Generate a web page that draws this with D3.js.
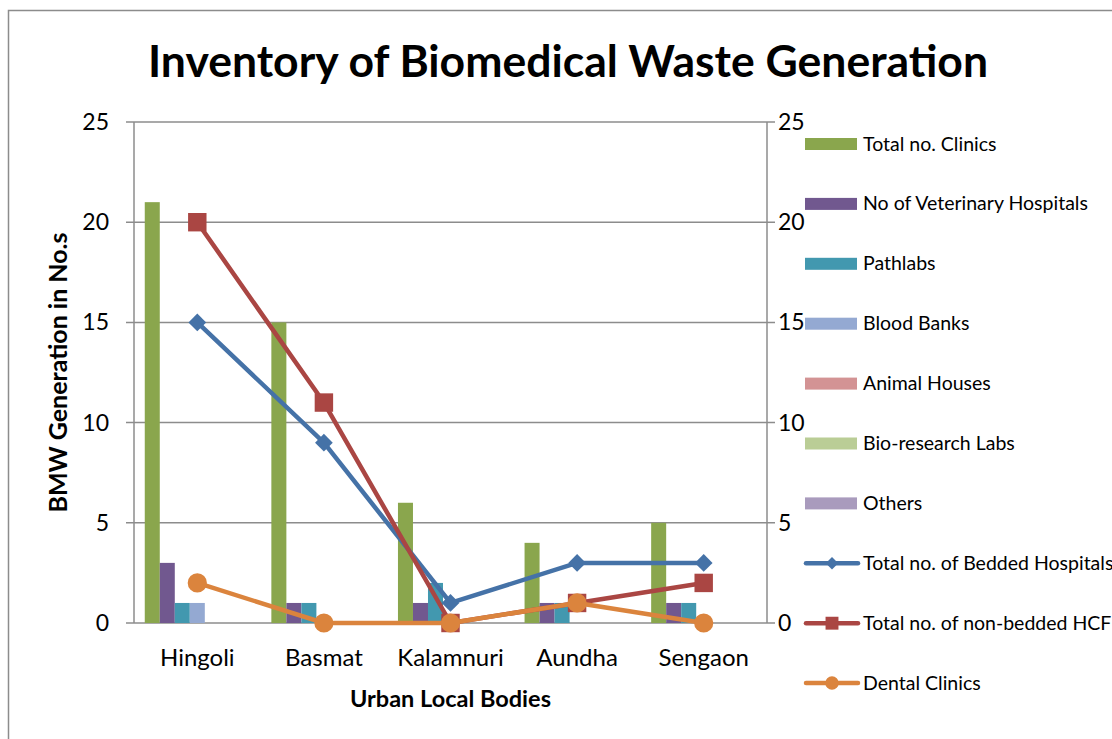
<!DOCTYPE html>
<html>
<head>
<meta charset="utf-8">
<script src="https://cdn.jsdelivr.net/npm/d3@7"></script>
<style>
    body { margin: 0; background: #fff; }
    text { font-family: Lato, "Open Sans", sans-serif; fill: #000; }
</style>
</head>
<body>
<div id="chart"></div>
<script>
const towns = ["Hingoli", "Basmat", "Kalamnuri", "Aundha", "Sengaon"];

const barNames = ["Total no. Clinics", "No of Veterinary Hospitals", "Pathlabs", "Blood Banks",
    "Animal Houses", "Bio-research Labs", "Others"];
const clinics = [21, 15, 6, 4, 5];
const vetHospitals = [3, 1, 1, 1, 1];
const pathlabs = [1, 1, 2, 1, 1];
const bloodBanks = [1, 0, 0, 0, 0];
const animalHouses = [0, 0, 0, 0, 0];
const bioLabs = [0, 0, 0, 0, 0];
const others = [0, 0, 0, 0, 0];

const lineNames = ["Total no. of Bedded Hospitals", "Total no. of non-bedded HCF", "Dental Clinics"];
const beddedHospitals = [15, 9, 1, 3, 3];
const nonBeddedHCF = [20, 11, 0, 1, 2];
const dentalClinics = [2, 0, 0, 1, 0];

const yTicks = [0, 5, 10, 15, 20, 25];

const barColors = ["#8aa64d", "#71588f", "#4298af", "#94a9d2", "#d39394", "#bacd96", "#a99bbd"];
const lineColors = ["#4572a7", "#aa4643", "#db843d"];
const lineMarkers = ["diamond", "square", "circle"];

function renderChart() {
    const width = 1112, height = 739;
    const plot = {left: 134, right: 767, top: 122, bottom: 623};

    const svg = d3.select("#chart").append("svg")
        .attr("width", width)
        .attr("height", height);

    // outer chart frame, runs off the right and bottom
    svg.append("rect")
        .attr("x", 8.5).attr("y", 10.5)
        .attr("width", 1200).attr("height", 800)
        .attr("fill", "none")
        .attr("stroke", "#8c8c8c")
        .attr("stroke-width", 1.5);

    svg.append("text")
        .attr("x", 568).attr("y", 77)
        .attr("text-anchor", "middle")
        .style("font-size", "44.5px")
        .style("font-weight", "bold")
        .text("Inventory of Biomedical Waste Generation");

    const x0 = d3.scaleBand()
        .domain(towns)
        .range([plot.left, plot.right]);
    const gap = x0.bandwidth() * 0.17;
    const x1 = d3.scaleBand()
        .domain(barNames)
        .range([gap / 2, x0.bandwidth() - gap / 2]);

    const y = d3.scaleLinear()
        .domain([0, 25])
        .range([plot.bottom, plot.top]);

    // gridlines with outward ticks on both sides
    svg.append("g")
        .selectAll("line")
        .data(yTicks)
        .enter()
        .append("line")
        .attr("x1", plot.left - 8)
        .attr("x2", plot.right + 8)
        .attr("y1", function (d) { return y(d); })
        .attr("y2", function (d) { return y(d); })
        .attr("stroke", "#8c8c8c")
        .attr("stroke-width", 1.5);

    svg.append("line")
        .attr("x1", plot.left).attr("x2", plot.left)
        .attr("y1", plot.top).attr("y2", plot.bottom)
        .attr("stroke", "#8c8c8c").attr("stroke-width", 1.5);
    svg.append("line")
        .attr("x1", plot.right).attr("x2", plot.right)
        .attr("y1", plot.top).attr("y2", plot.bottom)
        .attr("stroke", "#8c8c8c").attr("stroke-width", 1.5);

    svg.append("g")
        .selectAll("text")
        .data(yTicks)
        .enter()
        .append("text")
        .attr("x", 109)
        .attr("y", function (d) { return y(d) + 8; })
        .attr("text-anchor", "end")
        .style("font-size", "23px")
        .text(function (d) { return d; });

    svg.append("g")
        .selectAll("text")
        .data(yTicks)
        .enter()
        .append("text")
        .attr("x", 778)
        .attr("y", function (d) { return y(d) + 8; })
        .style("font-size", "23px")
        .text(function (d) { return d; });

    svg.append("g")
        .selectAll("text")
        .data(towns)
        .enter()
        .append("text")
        .attr("x", function (d) { return x0(d) + x0.bandwidth() / 2; })
        .attr("y", 666)
        .attr("text-anchor", "middle")
        .style("font-size", "24px")
        .text(function (d) { return d; });

    svg.append("text")
        .attr("x", (plot.left + plot.right) / 2).attr("y", 707)
        .attr("text-anchor", "middle")
        .style("font-size", "23.5px")
        .style("font-weight", "bold")
        .text("Urban Local Bodies");

    svg.append("text")
        .attr("transform", "translate(67," + (plot.top + plot.bottom) / 2 + ") rotate(-90)")
        .attr("text-anchor", "middle")
        .style("font-size", "25px")
        .style("font-weight", "bold")
        .text("BMW Generation in No.s");

    // bars
    const barSeries = [clinics, vetHospitals, pathlabs, bloodBanks, animalHouses, bioLabs, others];
    barSeries.forEach(function (values, s) {
        svg.append("g")
            .selectAll("rect")
            .data(values)
            .enter()
            .append("rect")
            .attr("x", function (d, i) { return x0(towns[i]) + x1(barNames[s]); })
            .attr("y", function (d) { return y(d); })
            .attr("width", x1.bandwidth())
            .attr("height", function (d) { return y(0) - y(d); })
            .attr("fill", barColors[s]);
    });

    // lines with markers
    const lineSeries = [beddedHospitals, nonBeddedHCF, dentalClinics];
    const line = d3.line()
        .x(function (d, i) { return x0(towns[i]) + x0.bandwidth() / 2; })
        .y(function (d) { return y(d); });

    lineSeries.forEach(function (values, s) {
        const g = svg.append("g");
        g.append("path")
            .datum(values)
            .attr("d", line)
            .attr("fill", "none")
            .attr("stroke", lineColors[s])
            .attr("stroke-width", 4.5)
            .attr("stroke-linejoin", "round");
        g.selectAll("marker-pt")
            .data(values)
            .enter()
            .append("path")
            .attr("transform", function (d, i) {
                return "translate(" + (x0(towns[i]) + x0.bandwidth() / 2) + "," + y(d) + ")";
            })
            .attr("d", markerPath(lineMarkers[s], 1))
            .attr("fill", lineColors[s]);
    });

    renderLegend(svg);
}

function markerPath(kind, scale) {
    if (kind === "diamond") return d3.symbol().type(d3.symbolDiamond2).size(200 * scale * scale)();
    if (kind === "square") return d3.symbol().type(d3.symbolSquare).size(340 * scale * scale)();
    return d3.symbol().type(d3.symbolCircle).size(290 * scale * scale)();
}

function renderLegend(svg) {
    const items = barNames.map(function (d, i) { return {name: d, type: "bar", i: i}; })
        .concat(lineNames.map(function (d, i) { return {name: d, type: "line", i: i}; }));

    const legend = svg.append("g")
        .selectAll("g")
        .data(items)
        .enter()
        .append("g")
        .attr("transform", function (d, i) { return "translate(0," + (144 + i * 59.9) + ")"; });

    legend.filter(function (d) { return d.type === "bar"; })
        .append("rect")
        .attr("x", 805).attr("y", -6)
        .attr("width", 52).attr("height", 12)
        .attr("fill", function (d) { return barColors[d.i]; });

    const lines = legend.filter(function (d) { return d.type === "line"; });
    lines.append("line")
        .attr("x1", 806).attr("x2", 858)
        .attr("stroke", function (d) { return lineColors[d.i]; })
        .attr("stroke-width", 4.5)
        .attr("stroke-linecap", "round");
    lines.append("path")
        .attr("transform", "translate(832,0)")
        .attr("d", function (d) { return markerPath(lineMarkers[d.i], 0.7); })
        .attr("fill", function (d) { return lineColors[d.i]; });

    legend.append("text")
        .attr("x", 863)
        .attr("y", 6.5)
        .style("font-size", "19.5px")
        .text(function (d) { return d.name; });
}

renderChart();
</script>
</body>
</html>
